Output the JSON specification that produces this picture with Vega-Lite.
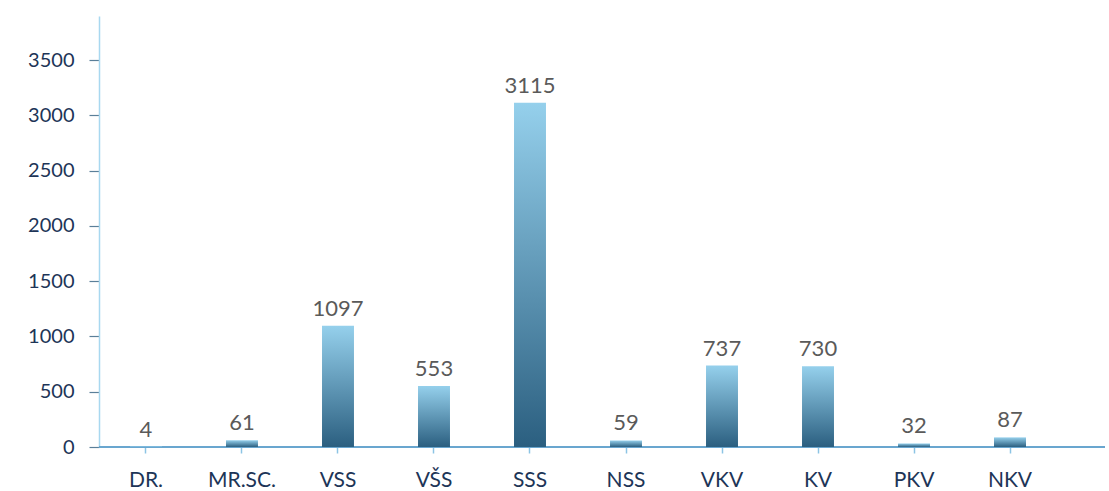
{
  "$schema": "https://vega.github.io/schema/vega-lite/v6.json",
  "width": 1006,
  "height": 431,
  "autosize": {"type": "none"},
  "padding": {"left": 99, "top": 16, "right": 4, "bottom": 44},
  "background": "white",
  "config": {"view": {"stroke": null}, "font": "Lato"},
  "data": {"values": [
    {"level": "DR.", "count": 4},
    {"level": "MR.SC.", "count": 61},
    {"level": "VSS", "count": 1097},
    {"level": "VŠS", "count": 553},
    {"level": "SSS", "count": 3115},
    {"level": "NSS", "count": 59},
    {"level": "VKV", "count": 737},
    {"level": "KV", "count": 730},
    {"level": "PKV", "count": 32},
    {"level": "NKV", "count": 87}
  ]},
  "layer": [
    {"mark": {"type": "rule", "color": "#6aa6cf", "strokeWidth": 1.5},
      "encoding": {"y": {"datum": 0, "type": "quantitative"}}},
    {"mark": {"type": "bar", "color": {"gradient": "linear", "x1": 0, "y1": 0, "x2": 0, "y2": 1,
      "stops": [{"offset": 0, "color": "#95d0ec"}, {"offset": 1, "color": "#2b5f80"}]}},
      "encoding": {
        "x": {"field": "level", "type": "nominal", "sort": null,
          "scale": {"paddingInner": 0.667, "paddingOuter": 0.323, "range": [0, 958]},
          "axis": {"title": null, "labelAngle": 0, "labelFont": "Lato", "labelFontSize": 21, "labelColor": "#1d3557",
            "labelPadding": 16, "domain": false, "tickColor": "#8cc4e4", "tickSize": 6, "tickWidth": 1.5}},
        "y": {"field": "count", "type": "quantitative",
          "scale": {"domain": [0, 3900], "nice": false},
          "axis": {"title": null, "values": [0, 500, 1000, 1500, 2000, 2500, 3000, 3500], "grid": false, "format": "d",
            "labelFont": "Lato", "labelFontSize": 20, "labelColor": "#1d3557", "labelPadding": 15,
            "domainColor": "#a8d8f0", "domainWidth": 1.5, "tickColor": "#5a7f99", "tickSize": 10, "tickWidth": 1.2}}
      }},
    {"mark": {"type": "text", "baseline": "alphabetic", "dy": -10, "fontSize": 22, "font": "Lato", "color": "#5a5a5a"},
      "encoding": {
        "x": {"field": "level", "type": "nominal", "sort": null},
        "y": {"field": "count", "type": "quantitative"},
        "text": {"field": "count", "type": "quantitative"}}}
  ]
}
